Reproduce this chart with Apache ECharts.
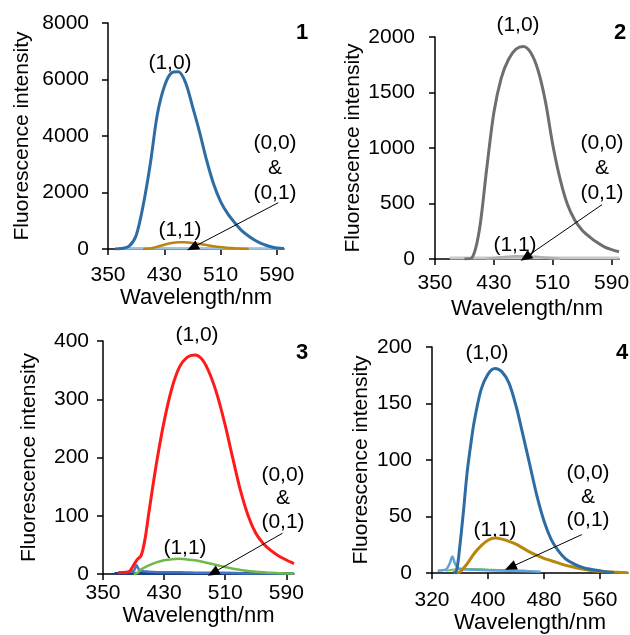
<!DOCTYPE html>
<html lang="en">
<head>
    <meta charset="UTF-8">
    <title>Fluorescence spectra</title>
    <script src="https://cdn.jsdelivr.net/npm/echarts@6/dist/echarts.min.js"></script>
    <style>
        html, body { margin: 0; padding: 0; background: #fff; }
        #chart { width: 630px; height: 635px; }
    </style>
</head>
<body>
<div id="chart"></div>
<script type="text/javascript">
// panel 1
var p1Wave10 = [360, 370, 380, 390, 400, 410, 420, 430, 440, 450, 460, 470, 480, 490, 500, 510, 520, 530, 540, 550, 560, 570, 580, 590, 600];
var p1Int10 = [0, 20, 100, 480, 1550, 3000, 4750, 5750, 6230, 6270, 5900, 5050, 4150, 3150, 2300, 1680, 1250, 930, 650, 450, 290, 170, 90, 35, 15];
var p1Wave11 = [400, 410, 420, 430, 440, 450, 460, 470, 480, 490, 500, 510, 520, 530, 540, 550];
var p1Int11 = [0, 20, 80, 150, 210, 240, 240, 215, 180, 140, 100, 70, 45, 25, 10, 0];
var p1WaveBase = [365, 380, 400, 420, 440, 460, 480, 500, 520, 540, 560, 580, 600];
var p1Int00 = [20, 25, 25, 30, 30, 30, 30, 25, 25, 20, 20, 15, 15];
var p1Int01 = [10, 10, 12, 12, 15, 15, 15, 12, 12, 10, 10, 10, 8];

// panel 2
var p2Wave10 = [390, 400, 410, 420, 430, 440, 450, 460, 470, 480, 490, 500, 510, 520, 530, 540, 550, 560, 570, 580, 590, 600];
var p2Int10 = [0, 10, 250, 800, 1320, 1630, 1800, 1890, 1915, 1860, 1700, 1420, 1030, 720, 490, 350, 260, 200, 150, 110, 85, 65];
var p2Wave11 = [420, 440, 460, 480, 500, 520];
var p2Int11 = [0, 15, 25, 22, 12, 0];
var p2Wave00 = [430, 445, 460, 475, 490, 500];
var p2Int00 = [2, 3, 3, 3, 2, 2];
var p2Wave01 = [370, 400, 430, 460, 490, 520, 550, 580, 600];
var p2Int01 = [8, 8, 10, 12, 12, 10, 10, 8, 8];

// panel 3
var p3Wave10 = [370, 380, 385, 390, 395, 400, 405, 410, 420, 430, 440, 450, 460, 470, 480, 490, 500, 510, 520, 530, 540, 550, 560, 570, 580, 590, 600];
var p3Int10 = [2, 3, 5, 15, 25, 32, 60, 105, 190, 262, 318, 355, 372, 376, 368, 343, 305, 255, 198, 143, 100, 70, 52, 40, 31, 24, 18];
var p3Wave11 = [390, 395, 400, 410, 420, 430, 440, 450, 460, 470, 480, 490, 500, 510, 520, 530, 540, 550, 560, 570, 580, 590, 600];
var p3Int11 = [0, 2, 8, 15, 20, 23.5, 25.5, 26, 25, 23.5, 21, 18, 15, 12, 9, 7, 5, 4, 3, 2, 1.5, 1, 1];
var p3Wave00 = [370, 380, 390, 394, 398, 410, 430, 450, 480, 510, 550, 600];
var p3Int00 = [2, 3, 5, 15, 6, 4, 3, 3, 2, 2, 1, 1];
var p3Wave01 = [365, 400, 450, 500, 550, 600];
var p3Int01 = [1, 1, 1, 1, 1, 1];

// panel 4
var p4Wave10 = [350, 355, 360, 365, 370, 375, 380, 390, 400, 410, 420, 430, 440, 450, 460, 470, 480, 490, 500, 510, 520, 530, 540, 550, 560, 570, 580];
var p4Int10 = [0, 2, 25, 55, 88, 112, 133, 162, 176, 181, 178, 168, 148, 122, 95, 68, 46, 30, 20, 13, 9, 6, 4, 3, 2, 1, 0.5];
var p4Wave11 = [355, 360, 370, 380, 390, 400, 410, 420, 430, 440, 450, 460, 470, 480, 490, 500, 510, 520, 530, 540, 550, 560, 570, 580, 590, 600];
var p4Int11 = [0, 1, 8, 17, 24, 29, 31, 30, 28, 25.5, 22, 18.5, 15.5, 13, 11, 9, 7, 5.5, 4, 3, 2, 1.4, 1, 0.7, 0.5, 0.3];
var p4Wave00 = [328, 335, 340, 345, 349, 353, 358, 370, 400, 430, 460, 475];
var p4Int00 = [2, 2.5, 3, 8, 14.5, 8, 4, 3, 2.5, 2, 1.5, 1];
var p4Wave01 = [340, 360, 380, 400, 430, 455];
var p4Int01 = [2, 3.5, 3.5, 3, 2.5, 2];

var xTicks123 = [350, 430, 510, 590];
var xTicks4 = [320, 400, 480, 560];

var FONT = '"Liberation Sans", Arial, sans-serif';

function pairs(xs, ys) {
    return xs.map(function (x, i) { return [x, ys[i]]; });
}

var grids = [
    {left: 108, top: 23, width: 176, height: 226},
    {left: 435, top: 37, width: 184, height: 222},
    {left: 103, top: 341, width: 191, height: 233},
    {left: 432, top: 347, width: 196, height: 226}
];

function xAxis(idx, min, max, ticks, margin, gap) {
    return {
        type: 'value', gridIndex: idx, min: min, max: max,
        name: 'Wavelength/nm', nameLocation: 'middle', nameGap: gap,
        nameTextStyle: {fontSize: 22, color: '#000', fontFamily: FONT},
        axisLine: {show: true, lineStyle: {color: '#000', width: 1.5}},
        axisTick: {show: true, length: 6, customValues: ticks, lineStyle: {color: '#000', width: 1.5}},
        axisLabel: {customValues: ticks, fontSize: 21, color: '#000', fontFamily: FONT, margin: margin},
        splitLine: {show: false}
    };
}

function yAxis(idx, max, interval, margin, gap) {
    return {
        type: 'value', gridIndex: idx, min: 0, max: max, interval: interval,
        name: 'Fluorescence intensity', nameLocation: 'middle', nameGap: gap,
        nameTextStyle: {fontSize: 21, color: '#000', fontFamily: FONT},
        axisLine: {show: true, lineStyle: {color: '#000', width: 1.5}},
        axisTick: {show: true, length: 6, lineStyle: {color: '#000', width: 1.5}},
        axisLabel: {
            fontSize: 21, color: '#000', fontFamily: FONT, margin: margin,
            formatter: function (v) { return String(v); }
        },
        splitLine: {show: false}
    };
}

function line(idx, name, xs, ys, color, width) {
    return {
        name: name, type: 'line', xAxisIndex: idx, yAxisIndex: idx,
        data: pairs(xs, ys), showSymbol: false, smooth: 0.3,
        lineStyle: {color: color, width: width || 2.5},
        itemStyle: {color: color}
    };
}

function arrow(from, to) {
    return {
        silent: true, symbol: ['none', 'triangle'], symbolSize: [10, 12],
        lineStyle: {color: '#000', width: 1, type: 'solid'},
        label: {show: false},
        data: [[{coord: from}, {coord: to}]]
    };
}

var series = [
    line(0, '(0,1)', p1WaveBase, p1Int01, '#5b9bd5', 2),
    line(0, '(0,0)', p1WaveBase, p1Int00, '#9dc3e6', 2.5),
    line(0, '(1,1)', p1Wave11, p1Int11, '#b8860b', 2.5),
    line(0, '(1,0)', p1Wave10, p1Int10, '#2e6da4', 3),

    line(1, '(0,0)', p2Wave00, p2Int00, '#2f5597', 2),
    line(1, '(0,1)', p2Wave01, p2Int01, '#c8c8c8', 3),
    line(1, '(1,1)', p2Wave11, p2Int11, '#b0b0b0', 2.5),
    line(1, '(1,0)', p2Wave10, p2Int10, '#6e6e6e', 3),

    line(2, '(0,1)', p3Wave01, p3Int01, '#1f3f7f', 3),
    line(2, '(0,0)', p3Wave00, p3Int00, '#4472c4', 2.5),
    line(2, '(1,1)', p3Wave11, p3Int11, '#70b84a', 2.5),
    line(2, '(1,0)', p3Wave10, p3Int10, '#ff1a1a', 3),

    line(3, '(0,1)', p4Wave01, p4Int01, '#7fbf5a', 2),
    line(3, '(0,0)', p4Wave00, p4Int00, '#5fa3dc', 2.5),
    line(3, '(1,1)', p4Wave11, p4Int11, '#b8860b', 3),
    line(3, '(1,0)', p4Wave10, p4Int10, '#2e6da4', 3)
];

series[0].markLine = arrow([592, 1640], [470, 50]);
series[5].markLine = arrow([577, 490], [473, 14]);
series[8].markLine = arrow([585, 70], [494, 2]);
series[12].markLine = arrow([534, 34], [432, 5]);

function txt(x, y, s, bold) {
    return {
        type: 'text', x: x, y: y, silent: true,
        style: {
            text: s, fill: '#000', align: 'center', verticalAlign: 'middle',
            fontSize: bold ? 22 : 21, fontWeight: bold ? 'bold' : 'normal', fontFamily: FONT
        }
    };
}

var graphics = [
    txt(170, 63, '(1,0)'), txt(302, 33, '1', true),
    txt(275, 143, '(0,0)'), txt(275, 168, '&'), txt(275, 193, '(0,1)'), txt(180, 230, '(1,1)'),

    txt(518, 25, '(1,0)'), txt(620, 33, '2', true),
    txt(602, 143, '(0,0)'), txt(602, 168, '&'), txt(602, 193, '(0,1)'), txt(515, 245, '(1,1)'),

    txt(197, 335, '(1,0)'), txt(302, 353, '3', true),
    txt(283, 475, '(0,0)'), txt(283, 498, '&'), txt(283, 522, '(0,1)'), txt(185, 548, '(1,1)'),

    txt(487, 353, '(1,0)'), txt(622, 353, '4', true),
    txt(588, 473, '(0,0)'), txt(588, 497, '&'), txt(588, 520, '(0,1)'), txt(495, 530, '(1,1)')
];

var myChart = echarts.init(document.getElementById('chart'));
var option = {
    animation: false,
    backgroundColor: '#fff',
    grid: grids.map(function (g) {
        return Object.assign({containLabel: false, outerBoundsMode: 'none'}, g);
    }),
    xAxis: [
        xAxis(0, 350, 600, xTicks123, 16, 37),
        xAxis(1, 350, 600, xTicks123, 14, 39),
        xAxis(2, 350, 600, xTicks123, 9, 28),
        xAxis(3, 320, 600, xTicks4, 17, 37)
    ],
    yAxis: [
        yAxis(0, 8000, 2000, 19, 75),
        yAxis(1, 2000, 500, 20, 71),
        yAxis(2, 400, 100, 14, 63),
        yAxis(3, 200, 50, 20, 60)
    ],
    series: series,
    graphic: graphics
};
myChart.setOption(option);
</script>
</body>
</html>
